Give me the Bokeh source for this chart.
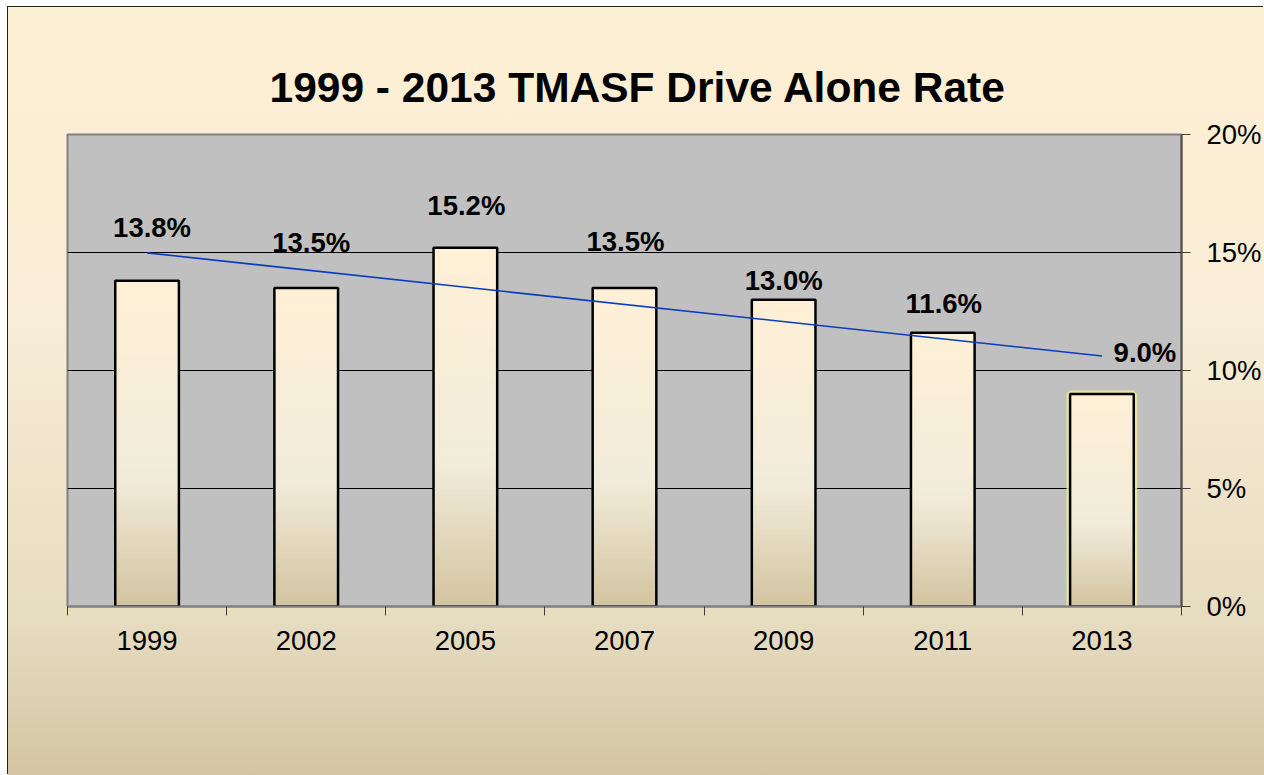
import numpy as np
from bokeh.plotting import figure
from bokeh.models import FixedTicker, PrintfTickFormatter
from bokeh.core.properties import value
from bokeh.embed import file_html
from bokeh.resources import INLINE

# ---- data ----
years = ["1999", "2002", "2005", "2007", "2009", "2011", "2013"]
rates = [13.8, 13.5, 15.2, 13.5, 13.0, 11.6, 9.0]   # percent
y_ticks = [0, 5, 10, 15, 20]
title_text = "1999 - 2013 TMASF Drive Alone Rate"

# label placement (style, pixels): vertical / horizontal shift of each value label
label_dx = [5, 5, 1, 1, 0, 1, 43]
label_dy = [-53, -45, -42, -46, -19, -29, -42]

FONT = "Liberation Sans"

xs = list(range(len(years)))

p = figure(width=1256, height=768, x_range=(-0.5, len(years) - 0.5), y_range=(0, 20),
           y_axis_location="right", output_backend="svg", toolbar_location=None,
           min_border_left=59, min_border_right=83, min_border_top=127, min_border_bottom=169)

p.styles = {"background": "linear-gradient(to bottom, #FDEFD3 0%, #F8EDD6 40%, #E6DCC0 80%, #D3C5A2 100%)",
            "box-shadow": "-1px -1px 0 #222",
            "margin-left": "8px", "margin-top": "7px"}
p.border_fill_color = None
p.background_fill_color = "#C0C0C0"
p.outline_line_color = "#808080"
p.outline_line_width = 2

# title
p.title.text = title_text
p.title.align = "left"
p.title.offset = 202
p.title.standoff = 47
p.title.text_font = FONT
p.title.text_font_size = "42.5px"
p.title.text_font_style = "bold"
p.title.text_color = "black"

# grid
p.xgrid.visible = False
p.ygrid.ticker = FixedTicker(ticks=y_ticks[1:-1])
p.ygrid.grid_line_color = "black"
p.ygrid.grid_line_width = 1

# y axis (right)
ya = p.yaxis[0]
ya.ticker = FixedTicker(ticks=y_ticks)
ya.formatter = PrintfTickFormatter(format="%d%%")
ya.axis_line_color = "#505050"
ya.axis_line_width = 2
ya.major_tick_line_color = "#404040"
ya.major_tick_out = 9
ya.major_tick_in = 0
ya.minor_tick_line_color = None
ya.major_label_standoff = 16
ya.major_label_text_font = FONT
ya.major_label_text_font_size = "27.5px"
ya.major_label_text_color = "black"

# x axis: labels at centres, tick marks at category boundaries
xa = p.xaxis[0]
xa.ticker = FixedTicker(ticks=xs, minor_ticks=[i - 0.5 for i in range(len(years) + 1)])
xa.major_label_overrides = {i: y for i, y in zip(xs, years)}
xa.axis_line_color = "#808080"
xa.axis_line_width = 2
xa.major_tick_out = 0
xa.major_tick_in = 0
xa.major_tick_line_color = None
xa.minor_tick_out = 9
xa.minor_tick_in = 0
xa.minor_tick_line_color = "#404040"
xa.minor_tick_line_width = 1
xa.major_label_standoff = 15
xa.major_label_text_font = FONT
xa.major_label_text_font_size = "27.5px"
xa.major_label_text_color = "black"

# bars with vertical gradient (drawn as nested slices, tallest first, no seams)
def lerp_color(c1, c2, t):
    a = [int(c1[i:i + 2], 16) for i in (1, 3, 5)]
    b = [int(c2[i:i + 2], 16) for i in (1, 3, 5)]
    return "#%02x%02x%02x" % tuple(int(round(a[k] + (b[k] - a[k]) * t)) for k in range(3))

stops = [(0.0, "#D3C4A0"), (0.4, "#F1ECDA"), (1.0, "#FFF0D6")]
def grad(t):
    for (t0, c0), (t1, c1) in zip(stops[:-1], stops[1:]):
        if t <= t1:
            return lerp_color(c0, c1, (t - t0) / (t1 - t0))
    return stops[-1][1]

N = 80
sx, st, sc = [], [], []
for k in reversed(range(N)):
    for x, v in zip(xs, rates):
        sx.append(x)
        st.append(v * (k + 1) / N)
        sc.append(grad((k + 0.5) / N))

bar_w = 0.40
# selection glow on last bar
p.vbar(x=[xs[-1]], top=[rates[-1]], width=bar_w, fill_color=None,
       line_color="#F2F08A", line_alpha=0.8, line_width=7)
p.vbar(x=sx, bottom=0, top=st, width=bar_w, fill_color=sc, line_color=None)
p.vbar(x=xs, top=rates, width=bar_w, fill_color=None, line_color="black", line_width=2.5)

# linear trend line
m, b = np.polyfit(xs, rates, 1)
p.line(x=[xs[0], xs[-1]], y=[m * xs[0] + b, m * xs[-1] + b], line_color="#0A3BC0", line_width=1.6)

# value labels
p.text(x=xs, y=rates, text=[f"{v:.1f}%" for v in rates], x_offset=label_dx, y_offset=label_dy,
       text_align="center", text_baseline="alphabetic", text_font=value(FONT),
       text_font_style="bold", text_font_size="27.5px", text_color="black")

open("out.html", "w").write(file_html(p, INLINE))
